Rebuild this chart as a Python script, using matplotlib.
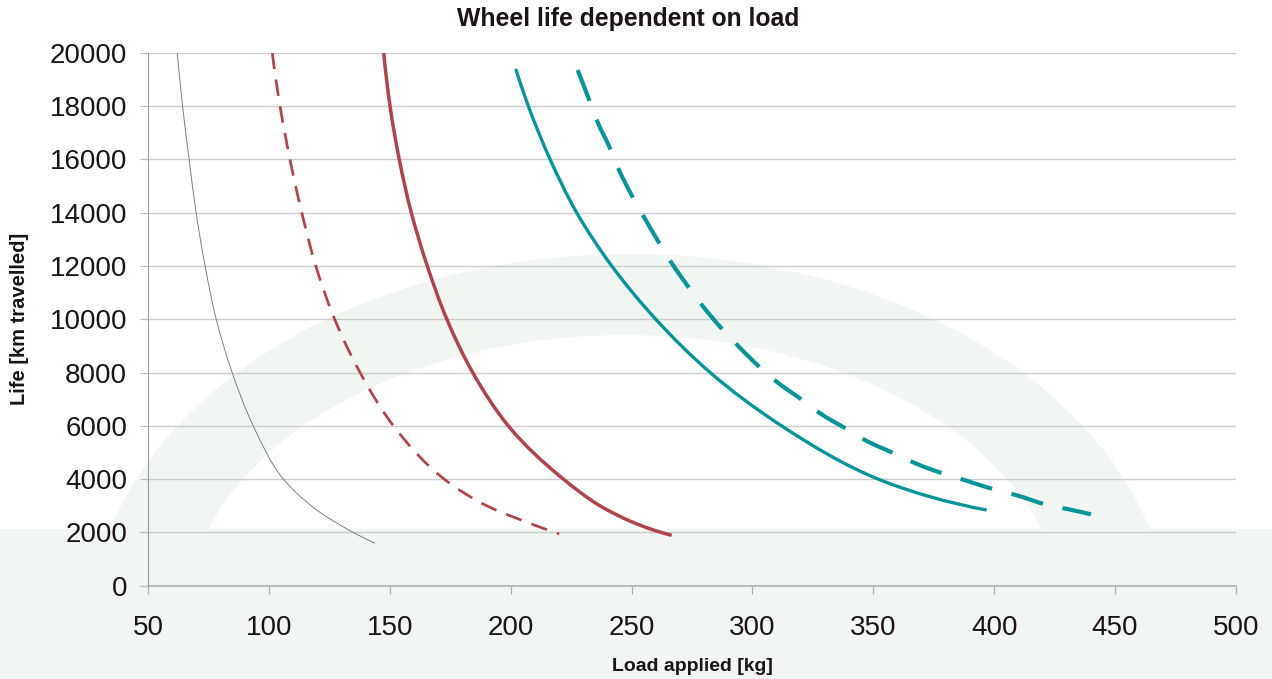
import matplotlib
matplotlib.use("Agg")
import numpy as np
import matplotlib.pyplot as plt
from matplotlib.patches import Ellipse, Rectangle, PathPatch
from matplotlib.path import Path
from matplotlib.transforms import Affine2D

plt.rcParams['font.family'] = ['Liberation Sans', 'DejaVu Sans']
plt.rcParams['lines.scale_dashes'] = False

# ---------------- data ----------------
title = "Wheel life dependent on load"
xlabel = "Load applied [kg]"
ylabel = "Life [km travelled]"

xticks = [50, 100, 150, 200, 250, 300, 350, 400, 450, 500]
yticks = [0, 2000, 4000, 6000, 8000, 10000, 12000, 14000, 16000, 18000, 20000]

gray_load = [62.1, 64.3, 67.0, 69.9, 73.6, 78.2, 84.8, 93.5, 106.0, 117.5, 134.9, 143.9]
gray_life = [20000, 18000, 16000, 14000, 12000, 10000, 8000, 6000, 4000, 3000, 2000, 1590]

red_dash_load = [101.4, 104.6, 108.7, 113.6, 119.4, 127.2, 137.7, 151.5, 172.5, 190.1, 203.9, 220.1]
red_dash_life = [20000, 18000, 16000, 14000, 12000, 10000, 8000, 6000, 4000, 3000, 2480, 1940]

red_solid_load = [147.5, 150.1, 153.9, 158.9, 165.5, 173.6, 184.3, 199.0, 221.8, 236.9, 250.0, 266.6]
red_solid_life = [20000, 18000, 16000, 14000, 12000, 10000, 8000, 6000, 4000, 3000, 2400, 1890]

teal_solid_load = [202.1, 207.3, 216.3, 227.3, 241.8, 260.0, 282.5, 312.0, 352.0, 373.4, 396.9]
teal_solid_life = [19390, 18000, 16000, 14000, 12000, 10000, 8000, 6000, 4000, 3340, 2840]

teal_dash_load = [227.7, 232.5, 235.6, 241.4, 244.5, 250.7, 254.9, 261.7, 266.2, 273.9,
                  279.2, 287.8, 293.7, 303.5, 310.0, 321.0, 327.6, 339.6, 346.5, 359.4,
                  366.8, 379.8, 387.6, 400.7, 408.9, 422.1, 430.2, 440.0]
teal_dash_life = [19350, 18220, 17470, 16350, 15660, 14540, 13870, 12820, 12160, 11160,
                  10520, 9595, 9032, 8158, 7655, 6942, 6492, 5842, 5467, 4930,
                  4615, 4180, 3966, 3591, 3403, 3028, 2878, 2679]

# ---------------- styles ----------------
RED = "#B2434B"
TEAL = "#08959A"
GRAY = "#7f7f7f"
BG_GREEN = "#F1F6F2"
INK = "#1a1414"
W, H = 1272, 679
XLIM = (50, 500)
YLIM = (0, 20000)
AX_L, AX_R, AX_T, AX_B = 148, 1236, 52.7, 585.7


def smooth_path(xs, ys):
    """Smoothed line (chord-length Hermite spline, Bessel tangents) through the points."""
    sx = (AX_R - AX_L) / (XLIM[1] - XLIM[0])
    sy = (AX_B - AX_T) / (YLIM[1] - YLIM[0])
    P = np.column_stack([np.asarray(xs) * sx, np.asarray(ys) * sy])
    n = len(P)
    seg = np.diff(P, axis=0)
    d = np.linalg.norm(seg, axis=1)
    U = seg / d[:, None]
    T = np.zeros_like(P)
    for i in range(1, n - 1):
        a, b = d[i - 1], d[i]
        T[i] = (b * U[i - 1] + a * U[i]) / (a + b)
    T[0] = 2 * U[0] - T[1] if n > 2 else U[0]
    T[-1] = 2 * U[-1] - T[-2] if n > 2 else U[-1]
    verts = [P[0]]
    codes = [Path.MOVETO]
    for i in range(n - 1):
        c1 = P[i] + T[i] * d[i] / 3.0
        c2 = P[i + 1] - T[i + 1] * d[i] / 3.0
        verts += [c1, c2, P[i + 1]]
        codes += [Path.CURVE4] * 3
    V = np.array(verts) / np.array([sx, sy])
    return Path(V, codes)


fig = plt.figure(figsize=(W / 100, H / 100), dpi=100)

# background watermark (pixel coordinates, y downward)
pix = Affine2D().scale(1, -1).translate(0, H).scale(1 / W, 1 / H) + fig.transFigure
fig.patches.append(Ellipse((630, 632), 1080, 756, transform=pix, facecolor=BG_GREEN,
                           edgecolor='none', zorder=0))
fig.patches.append(Ellipse((625, 621), 880, 572, transform=pix, facecolor='white',
                           edgecolor='none', zorder=1))
fig.patches.append(Rectangle((0, 529), W, H - 529, transform=pix, facecolor=BG_GREEN,
                             edgecolor='none', zorder=2))

ax = fig.add_axes([AX_L / W, 1 - AX_B / H, (AX_R - AX_L) / W, (AX_B - AX_T) / H])
ax.set_facecolor('none')
ax.set_zorder(5)

series = [
    (gray_load, gray_life, GRAY, 0.7, 'solid'),
    (red_dash_load, red_dash_life, RED, 1.95, (0, (11.9, 7.6))),
    (red_solid_load, red_solid_life, RED, 2.5, 'solid'),
    (teal_solid_load, teal_solid_life, TEAL, 2.4, 'solid'),
    (teal_dash_load, teal_dash_life, TEAL, 3.0, (0, (23.8, 14.4))),
]
for xs, ys, col, lw, ls in series:
    patch = PathPatch(smooth_path(xs, ys), facecolor='none', edgecolor=col, lw=lw,
                      linestyle=ls, capstyle='butt', joinstyle='round', zorder=3,
                      transform=ax.transData)
    ax.add_patch(patch)

ax.set_xlim(*XLIM)
ax.set_ylim(*YLIM)
ax.set_xticks(xticks)
ax.set_yticks(yticks)
ax.set_xticklabels([str(v) for v in xticks])
ax.set_yticklabels([str(v) for v in yticks])

ax.yaxis.grid(True, color="#CCCCCC", lw=1.0, zorder=1)
ax.xaxis.grid(False)
ax.set_axisbelow(True)

for s in ['top', 'right']:
    ax.spines[s].set_visible(False)
ax.spines['left'].set_color("#9a9a9a")
ax.spines['left'].set_linewidth(0.8)
ax.spines['bottom'].set_color("#b0b0b0")
ax.spines['bottom'].set_linewidth(1.2)

ax.tick_params(axis='x', direction='out', length=6, width=0.9, color="#b0b0b0",
               pad=15, labelsize=20, labelcolor=INK)
ax.tick_params(axis='y', direction='out', length=6, width=0.9, color="#bbbbbb",
               pad=9, labelsize=20, labelcolor=INK)

ax.set_xlabel(xlabel, fontsize=14, fontweight='bold', color=INK, labelpad=12)
ax.set_ylabel(ylabel, fontsize=14.5, fontweight='bold', color=INK, labelpad=15)

fig.text(628 / W, 1 - 19 / H, title, ha='center', va='center', fontsize=17.8,
         fontweight='bold', color=INK)

fig.savefig("out.png", dpi=100)
